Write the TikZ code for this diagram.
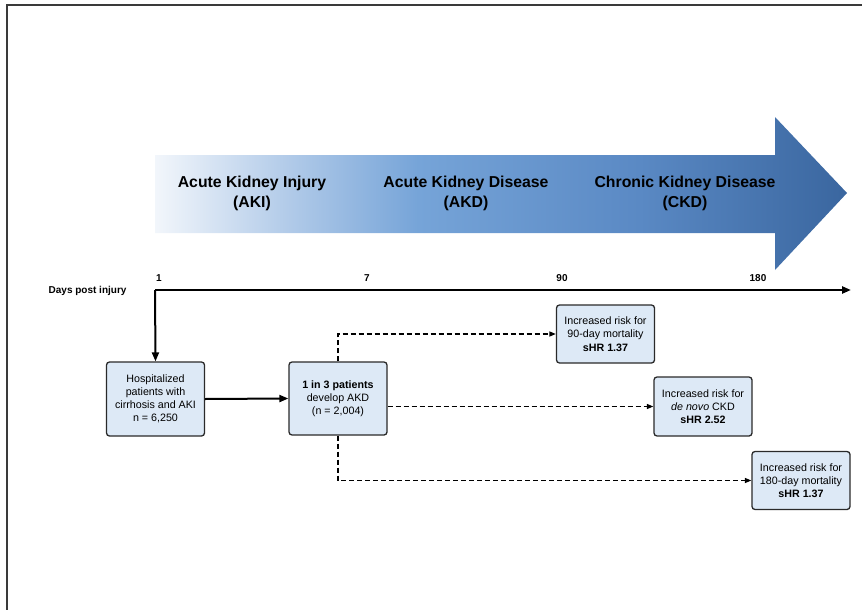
\documentclass[tikz,border=0pt]{standalone}
\usepackage{fontspec}
\setmainfont{Liberation Sans}
\usetikzlibrary{arrows.meta}
\definecolor{boxfill}{HTML}{DDE9F6}
\definecolor{edge}{HTML}{2A2A2A}
\definecolor{framec}{HTML}{3A3A3A}
\definecolor{sA}{HTML}{F2F6FB}
\definecolor{sB}{HTML}{AFC9E8}
\definecolor{sC}{HTML}{76A4D8}
\definecolor{sD}{HTML}{5A89C4}
\definecolor{sE}{HTML}{3A669F}
\pgfdeclarehorizontalshading{kidney}{100bp}{color(0bp)=(sA); color(25bp)=(sA); color(35bp)=(sB); color(44bp)=(sC); color(60bp)=(sD); color(75bp)=(sE); color(100bp)=(sE)}
\tikzset{
  kbox/.style={draw=edge, fill=boxfill, rounded corners=3pt, line width=1.3pt, align=center,
    inner sep=0pt, minimum width=98pt, font=\fontsize{10.7}{13.2}\selectfont},
  ttl/.style={align=center, font=\bfseries\fontsize{15.8}{20}\selectfont},
  tick/.style={font=\bfseries\fontsize{10}{11}\selectfont},
  axisline/.style={line width=2.2pt, -{Triangle[length=9pt,width=7pt]}},
  flow/.style={line width=2pt, -{Triangle[length=9pt,width=7pt]}},
  dashlink/.style={line width=1.4pt, dash pattern=on 5pt off 3pt, -{Triangle[length=6.5pt,width=5pt]}},
}
\begin{document}
\begin{tikzpicture}[x=1pt,y=-1pt]
\useasboundingbox (0,0) rectangle (862,610);
% frame
\draw[framec, line width=2pt] (7,611) -- (7,5) -- (863,5);
% big arrow
\shade[shading=kidney] (155,155) -- (775,155) -- (775,117) -- (847,193) -- (775,270) -- (775,233) -- (155,233) -- cycle;
\node[ttl] (aki) at (252,193) {Acute Kidney Injury\\(AKI)};
\node[ttl] (akdt) at (466,193) {Acute Kidney Disease\\(AKD)};
\node[ttl] (ckdt) at (685,193) {Chronic Kidney Disease\\(CKD)};
% axis
\coordinate (ax0) at (155,290);
\coordinate (ax1) at (851,290);
\draw[axisline] (ax0) -- (ax1);
\node[tick, anchor=east] (dpi) at (130,291) {Days post injury};
\node[tick] (d1) at (159,278) {1};
\node[tick] (d7) at (367,278) {7};
\node[tick] (d90) at (562,278) {90};
\node[tick] (d180) at (758,278) {180};
% boxes
\node[kbox, minimum height=74pt] (hosp) at (155.5,399) {Hospitalized\\patients with\\cirrhosis and AKI\\n = 6,250};
\node[kbox, minimum height=73pt] (akd) at (338,398.5) {\textbf{1 in 3 patients}\\develop AKD\\(n = 2,004)};
\node[kbox, minimum height=58pt] (r90) at (605.5,334) {Increased risk for\\90-day mortality\\\textbf{sHR 1.37}};
\node[kbox, minimum height=59pt] (ckd) at (703,406.5) {Increased risk for\\\textit{de novo} CKD\\\textbf{sHR 2.52}};
\node[kbox, minimum height=58pt] (r180) at (801,480.5) {Increased risk for\\180-day mortality\\\textbf{sHR 1.37}};
% connectors
\draw[flow] (ax0) -- (hosp.north);
\draw[flow] (hosp.east) -- (akd.west);
\draw[dashlink] (akd.north) |- (r90.west);
\draw[dashlink] (akd.east |- ckd.west) -- (ckd.west);
\draw[dashlink] (akd.south) |- (r180.west);
\end{tikzpicture}
\end{document}
